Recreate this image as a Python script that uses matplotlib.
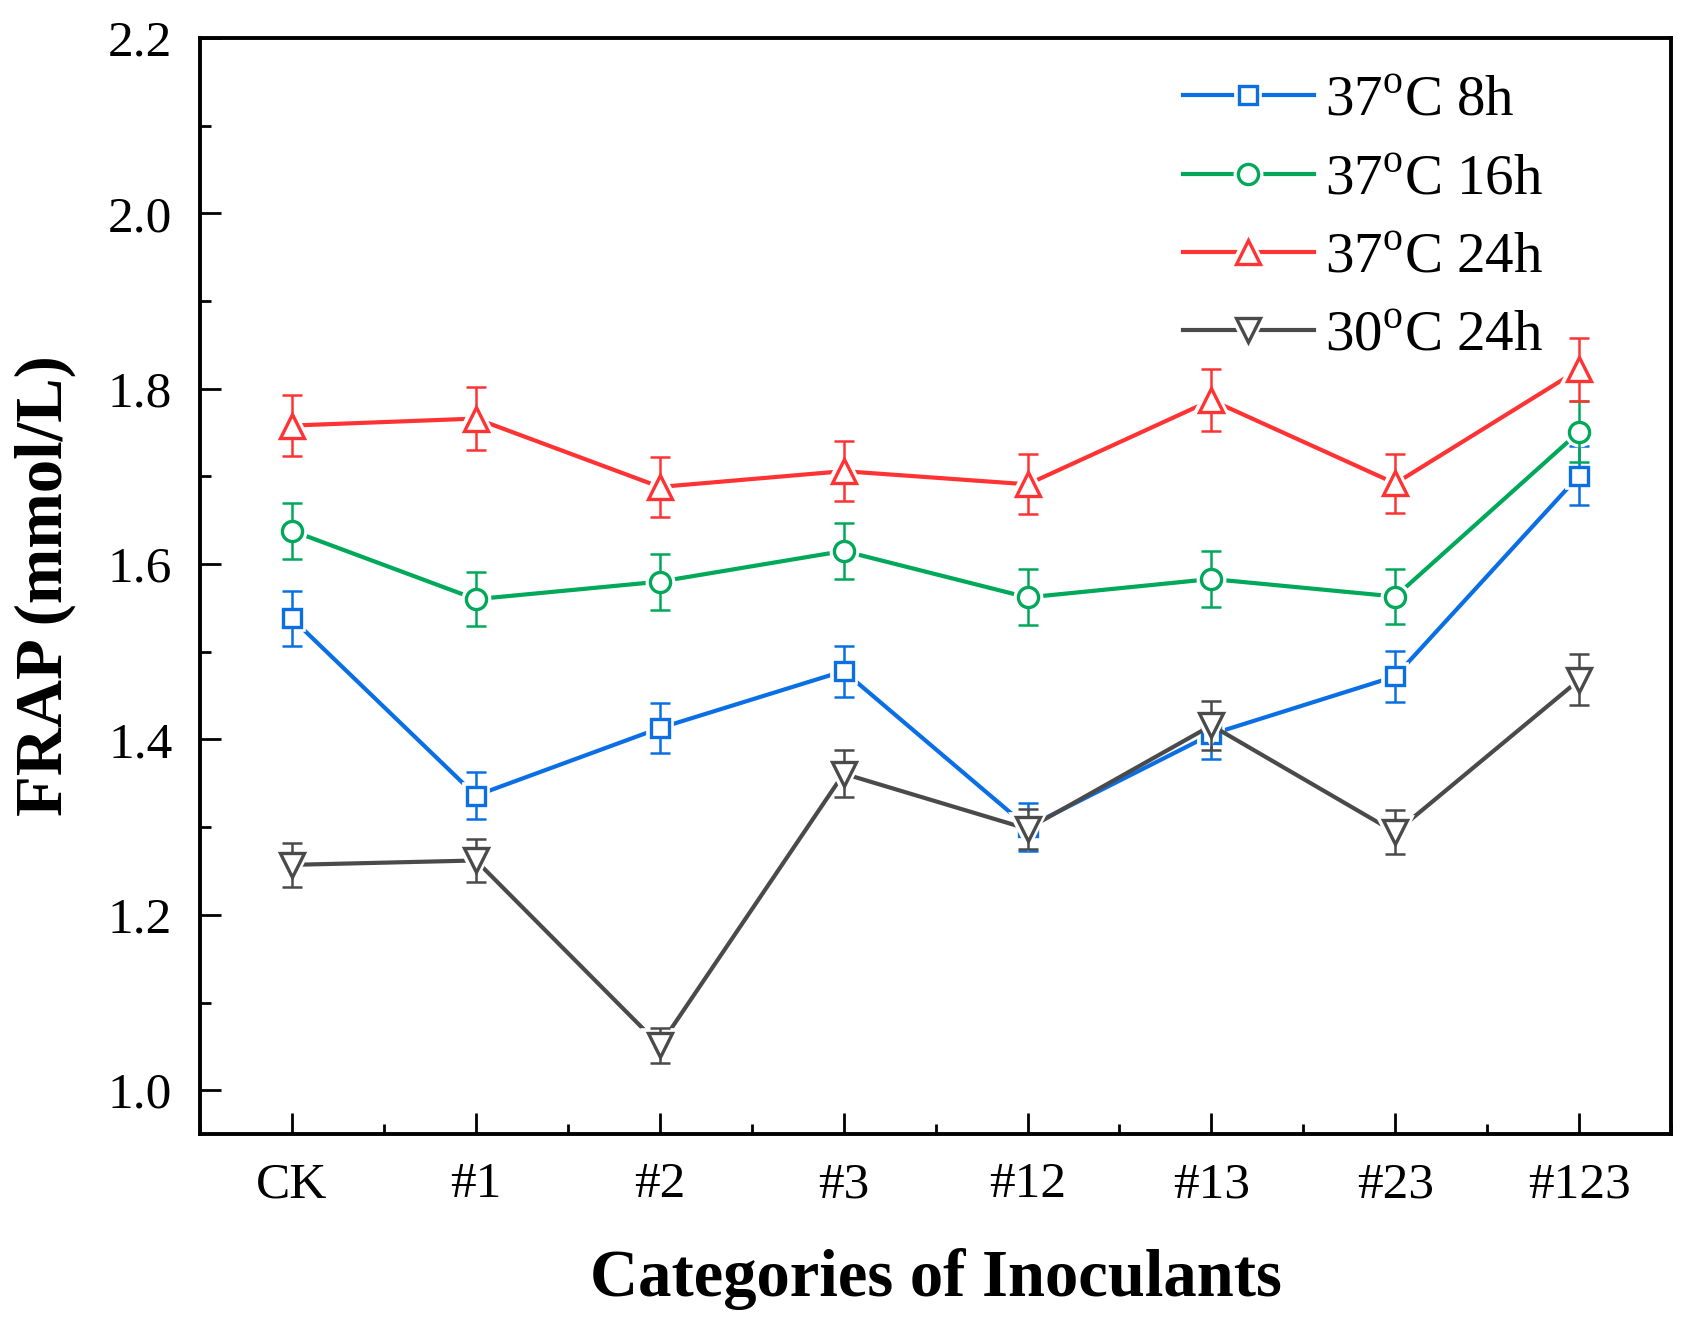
import numpy as np
import matplotlib.pyplot as plt
from matplotlib.lines import Line2D
from matplotlib.legend_handler import HandlerTuple
from matplotlib.ticker import MultipleLocator, FormatStrFormatter

plt.rcParams['font.family'] = ['Liberation Serif', 'DejaVu Serif']
plt.rcParams['mathtext.fontset'] = 'custom'
plt.rcParams['mathtext.rm'] = 'Liberation Serif'

categories = ['CK', '#1', '#2', '#3', '#12', '#13', '#23', '#123']
labels = [r'37$^{\mathregular{o}}$C 8h', r'37$^{\mathregular{o}}$C 16h',
          r'37$^{\mathregular{o}}$C 24h', r'30$^{\mathregular{o}}$C 24h']

frap_37_8h = [1.538, 1.336, 1.413, 1.478, 1.300, 1.406, 1.472, 1.701]
frap_37_16h = [1.638, 1.560, 1.580, 1.615, 1.562, 1.583, 1.563, 1.751]
frap_37_24h = [1.758, 1.766, 1.688, 1.706, 1.691, 1.787, 1.692, 1.822]
frap_30_24h = [1.257, 1.262, 1.051, 1.361, 1.298, 1.416, 1.294, 1.468]

err_37_8h = [0.031, 0.027, 0.029, 0.029, 0.027, 0.028, 0.029, 0.034]
err_37_16h = [0.032, 0.031, 0.032, 0.032, 0.032, 0.032, 0.031, 0.035]
err_37_24h = [0.035, 0.036, 0.034, 0.034, 0.034, 0.035, 0.034, 0.036]
err_30_24h = [0.025, 0.025, 0.020, 0.027, 0.023, 0.028, 0.025, 0.029]

series = [frap_37_8h, frap_37_16h, frap_37_24h, frap_30_24h]
errors = [err_37_8h, err_37_16h, err_37_24h, err_30_24h]
colors = ['#0a6fe4', '#00a85a', '#ff3333', '#4a4a4a']
markers = ['s', 'o', '^', 'v']
msizes = [13, 14.5, 17, 17]

fig = plt.figure(figsize=(16.87, 13.29), dpi=100)
ax = fig.add_axes([0.1186, 0.1467, 0.8720, 0.8247])

x = np.arange(len(categories))
handles = []
for i in range(4):
    z = 2 + 4 * i
    c = colors[i]
    ax.plot(x, series[i], color=c, lw=3, zorder=z)
    # white halo leaves a small gap between line and marker
    ax.plot(x, series[i], ls='none', marker=markers[i], ms=msizes[i],
            mfc='white', mec='white', mew=7, zorder=z + 1)
    ax.errorbar(x, series[i], yerr=errors[i], fmt='none', ecolor=c,
                elinewidth=1.8, capsize=7.5, capthick=1.8, zorder=z + 2)
    ax.plot(x, series[i], ls='none', marker=markers[i], ms=msizes[i],
            mfc='white', mec=c, mew=2.4, zorder=z + 3)
    h_line = Line2D([], [], color=c, lw=3)
    h_halo = Line2D([], [], ls='none', marker=markers[i], ms=msizes[i],
                    mfc='white', mec='white', mew=7)
    h_mark = Line2D([], [], ls='none', marker=markers[i], ms=msizes[i],
                    mfc='white', mec=c, mew=2.4)
    handles.append((h_line, h_halo, h_mark))

ax.set_xlim(-0.5, 7.5)
ax.set_ylim(0.95, 2.2)
ax.set_xticks(x)
ax.set_xticklabels(categories)
ax.xaxis.set_minor_locator(MultipleLocator(0.5))
ax.yaxis.set_major_locator(MultipleLocator(0.2))
ax.yaxis.set_minor_locator(MultipleLocator(0.1))
ax.yaxis.set_major_formatter(FormatStrFormatter('%.1f'))

ax.tick_params(which='both', direction='in', top=False, right=False,
               labelsize=37, width=2)
ax.tick_params(axis='y', which='major', length=15, pad=20)
ax.tick_params(axis='y', which='minor', length=8)
ax.tick_params(axis='x', which='major', length=15, pad=20)
ax.tick_params(axis='x', which='minor', length=7.5)
for s in ax.spines.values():
    s.set_linewidth(2.8)

ax.set_xlabel('Categories of Inoculants', fontsize=48, fontweight='bold', va='center')
ax.xaxis.set_label_coords(0.5, -0.132)
ax.set_ylabel('FRAP (mmol/L)', fontsize=48, fontweight='bold', va='center')
ax.yaxis.set_label_coords(-0.105, 0.5)

ax.legend(handles, labels, handler_map={tuple: HandlerTuple(ndivide=1, pad=0)},
          loc='upper left', bbox_to_anchor=(0.668, 0.966), frameon=False,
          fontsize=41, handlelength=2.3, handletextpad=0.2, labelspacing=0.46,
          borderpad=0, borderaxespad=0)

fig.savefig('out.png', dpi=100)
